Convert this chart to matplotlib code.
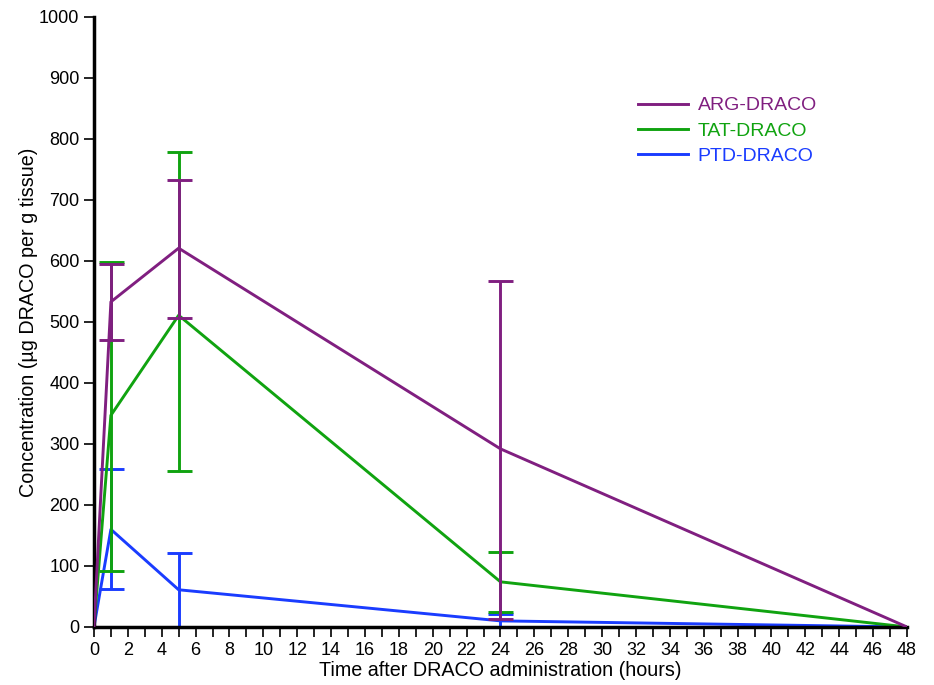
import numpy as np
import matplotlib.pyplot as plt

plt.rcParams['font.family'] = ['Liberation Sans', 'DejaVu Sans']

time_h = [0, 1, 5, 24, 48]

arg_mean = [0, 533, 621, 292, 0]
arg_hi = [0, 595, 733, 567, 0]
arg_lo = [0, 470, 507, 13, 0]

tat_mean = [0, 347, 511, 74, 0]
tat_hi = [0, 599, 778, 123, 0]
tat_lo = [0, 92, 255, 24, 0]

ptd_mean = [0, 160, 61, 10, 0]
ptd_hi = [0, 259, 121, 21, 0]
ptd_lo = [0, 62, 0, 0, 0]

series = [
    ('ARG-DRACO', arg_mean, arg_lo, arg_hi, '#801f80'),
    ('TAT-DRACO', tat_mean, tat_lo, tat_hi, '#10a310'),
    ('PTD-DRACO', ptd_mean, ptd_lo, ptd_hi, '#1a3cff'),
]

fig = plt.figure(figsize=(9.34, 6.85), dpi=100)
ax = fig.add_axes([0.1006, 0.0847, 0.8705, 0.8905])

for z, (name, m, lo, hi, c) in zip([3, 2, 1], series):
    m = np.array(m)
    err = np.array([m - np.array(lo), np.array(hi) - m])
    # no error bars at 0 and 48, spread is zero there
    ax.errorbar(time_h[1:4], m[1:4], yerr=err[:, 1:4], fmt='none',
                ecolor=c, elinewidth=2.1, capsize=9, capthick=2.1, zorder=z)
    ax.plot(time_h, m, color=c, lw=2.1, label=name, zorder=z)

ax.set_xlim(0, 48)
ax.set_ylim(0, 1000)
ax.set_xticks(np.arange(0, 49, 2))
ax.set_xticks(np.arange(0, 49, 1), minor=True)
ax.set_yticks(np.arange(0, 1001, 100))

for s in ['top', 'right']:
    ax.spines[s].set_visible(False)
for s in ['left', 'bottom']:
    ax.spines[s].set_linewidth(2.5)
ax.tick_params(axis='both', which='major', length=7, width=1.2, labelsize=13)
ax.tick_params(axis='x', which='minor', length=7, width=1.2)

ax.set_xlabel('Time after DRACO administration (hours)', fontsize=14.2, labelpad=2)
ax.set_ylabel('Concentration (µg DRACO per g tissue)', fontsize=14.2, labelpad=1)

ax.legend(loc='upper left', bbox_to_anchor=(0.647, 0.898), frameon=False,
          labelcolor='linecolor', fontsize=14, handlelength=2.6,
          handletextpad=0.5, labelspacing=0.4)

fig.savefig('out.png', dpi=100)
